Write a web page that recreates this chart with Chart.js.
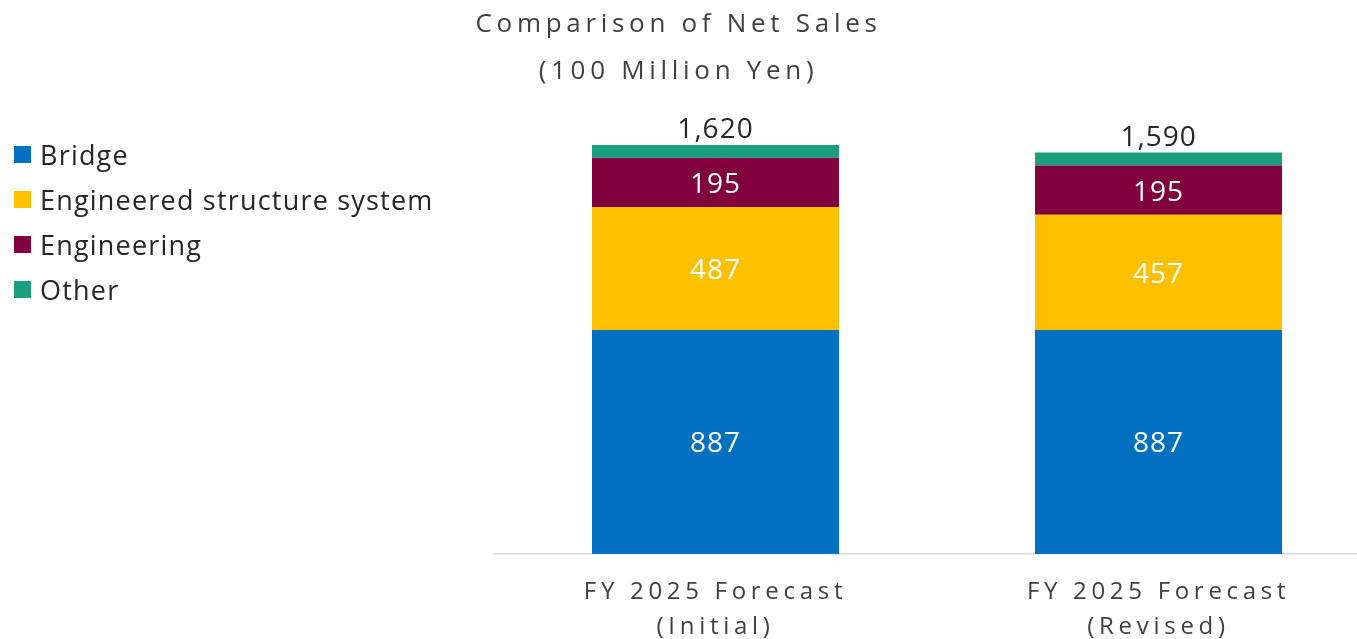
<!DOCTYPE html>
<html lang="en">
<head>
    <meta charset="UTF-8">
    <title>Comparison of Net Sales</title>
    <script src="https://cdn.jsdelivr.net/npm/chart.js"></script>
    <style>
        html, body {
            margin: 0;
            padding: 0;
            background: #fff;
            overflow: hidden;
        }
        .wrap {
            position: relative;
            width: 1357px;
            height: 639px;
        }
        /* легенда слева */
        .legend {
            position: absolute;
            left: 14px;
            top: 132px;
            font-family: "Open Sans", sans-serif;
            font-size: 27px;
            letter-spacing: 1.2px;
            color: #262626;
        }
        .legend div {
            height: 45px;
            display: flex;
            align-items: center;
        }
        .legend span.box {
            display: inline-block;
            width: 17px;
            height: 17px;
            margin-right: 9px;
        }
    </style>
</head>
<body>
<div class="wrap">
    <canvas id="chart"></canvas>
    <div class="legend" id="legend"></div>
</div>

<script>
    // Data
    const categories = [['FY 2025 Forecast', '(Initial)'], ['FY 2025 Forecast', '(Revised)']];
    const bridge = [887, 887];
    const engineeredStructure = [487, 457];
    const engineering = [195, 195];
    const other = [51, 51];
    const totals = [1620, 1590];

    const seriesNames = ['Bridge', 'Engineered structure system', 'Engineering', 'Other'];
    const seriesColors = ['#0070C0', '#FFC000', '#7F003C', '#1B9E7E'];
    const seriesValues = [bridge, engineeredStructure, engineering, other];

    const toPoints = arr => arr.map((v, i) => ({x: i, y: v}));

    // Spacing of letters for title and axis labels
    const spacingPlugin = {
        id: 'spacing',
        beforeDraw(chart) {
            chart.ctx.letterSpacing = '4.7px';
        },
        beforeDatasetsDraw(chart) {
            chart.ctx.letterSpacing = '0px';
        }
    };

    // Value labels inside bars + totals above
    const labelsPlugin = {
        id: 'valueLabels',
        afterDatasetsDraw(chart) {
            const ctx = chart.ctx;
            ctx.save();
            ctx.letterSpacing = '1px';
            ctx.textAlign = 'center';
            ctx.textBaseline = 'middle';
            ctx.font = '28px "Open Sans", sans-serif';
            for (let d = 0; d < 3; d++) {
                const meta = chart.getDatasetMeta(d);
                meta.data.forEach((el, i) => {
                    ctx.fillStyle = '#ffffff';
                    ctx.fillText(String(seriesValues[d][i]), el.x, (el.y + el.base) / 2 + 2.5);
                });
            }
            const top = chart.getDatasetMeta(3);
            top.data.forEach((el, i) => {
                ctx.fillStyle = '#262626';
                ctx.fillText(totals[i].toLocaleString('en-US'), el.x, el.y - 15);
            });
            ctx.restore();
        }
    };

    const ctx = document.getElementById('chart').getContext('2d');
    const chart = new Chart(ctx, {
        type: 'bar',
        data: {
            datasets: seriesNames.map((name, k) => ({
                label: name,
                data: toPoints(seriesValues[k]),
                backgroundColor: seriesColors[k],
                borderWidth: 0,
                categoryPercentage: 1,
                barPercentage: 0.5576
            }))
        },
        options: {
            responsive: true,
            maintainAspectRatio: false,
            animation: false,
            layout: {padding: {top: 1}},
            plugins: {
                legend: {display: false},
                tooltip: {enabled: false},
                title: {
                    display: true,
                    text: ['Comparison of Net Sales', '(100 Million Yen)'],
                    color: '#404040',
                    padding: 0,
                    font: {family: '"Open Sans", sans-serif', size: 26, weight: 'normal', lineHeight: 47 / 26}
                }
            },
            scales: {
                x: {
                    type: 'linear',
                    stacked: true,
                    offset: false,
                    min: -0.5,
                    max: 1.448,
                    afterBuildTicks: scale => {
                        scale.ticks = categories.map((c, i) => ({value: i}));
                    },
                    afterFit: scale => {
                        scale.height = 85;
                    },
                    grid: {display: false, drawTicks: false, offset: false},
                    border: {display: true, color: '#D9D9D9', width: 1.5},
                    ticks: {
                        autoSkip: false,
                        maxRotation: 0,
                        padding: 20.5,
                        color: '#404040',
                        font: {family: '"Open Sans", sans-serif', size: 24, lineHeight: 35 / 24},
                        callback: value => categories[value]
                    }
                },
                y: {
                    stacked: true,
                    min: 0,
                    max: 1818,
                    afterFit: scale => {
                        scale.width = 494;
                    },
                    grid: {display: false, drawTicks: false},
                    border: {display: false},
                    ticks: {display: false}
                }
            }
        },
        plugins: [spacingPlugin, labelsPlugin]
    });

    // HTML legend from datasets
    const legendEl = document.getElementById('legend');
    chart.data.datasets.forEach(ds => {
        const row = document.createElement('div');
        row.innerHTML = '<span class="box" style="background:' + ds.backgroundColor + '"></span>' + ds.label;
        legendEl.appendChild(row);
    });
</script>
</body>
</html>
